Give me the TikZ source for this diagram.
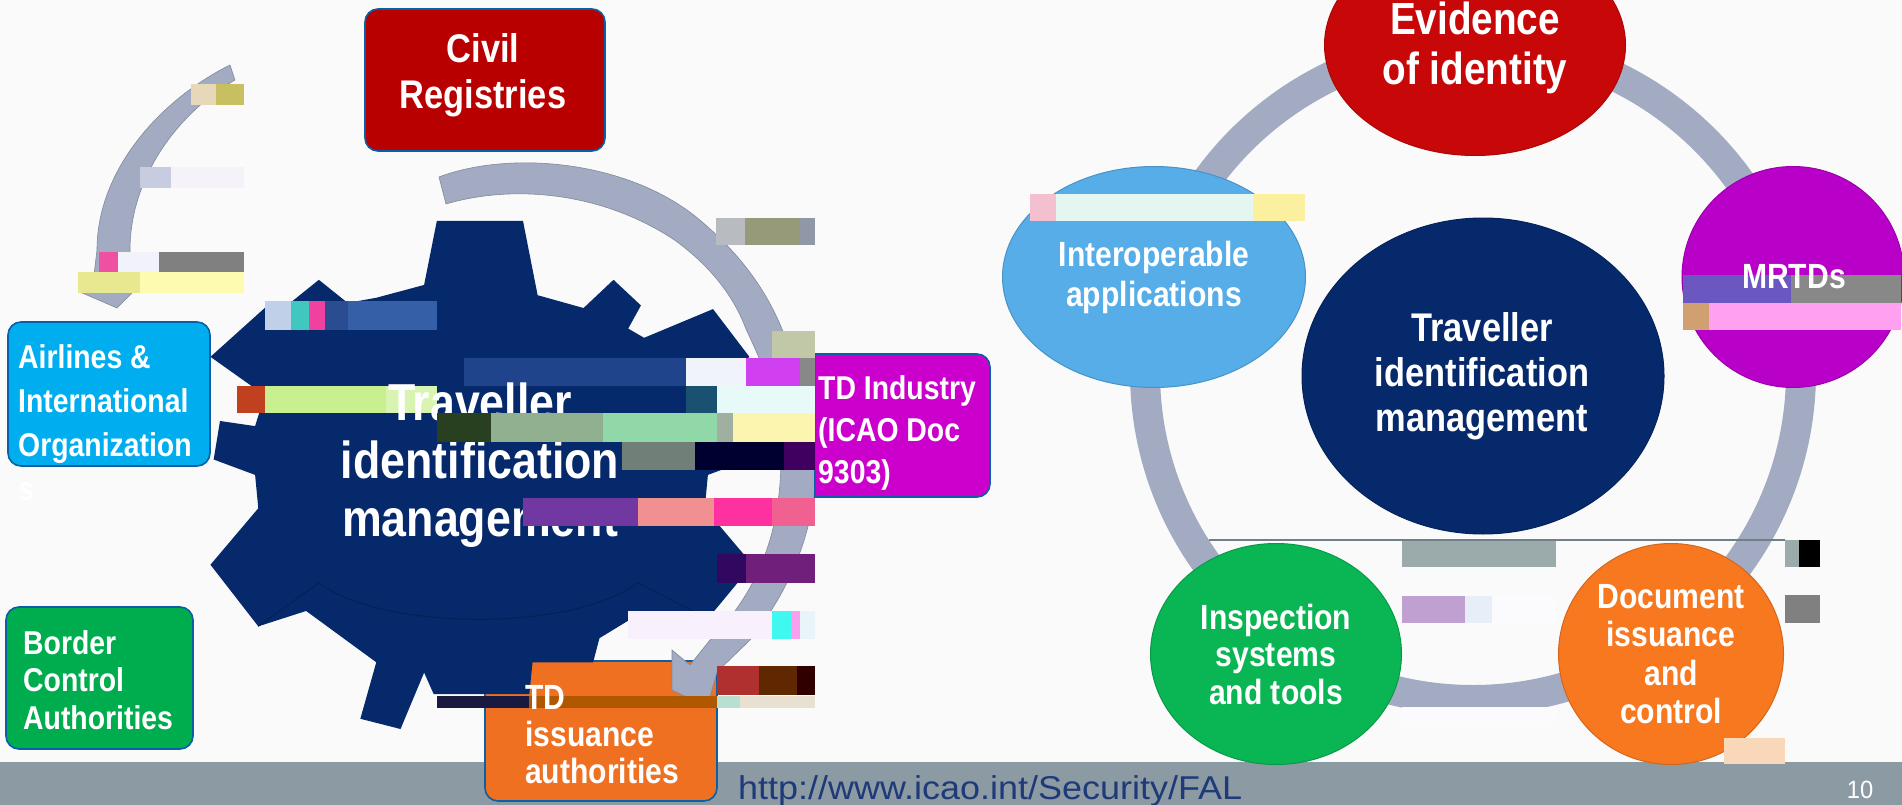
\documentclass[tikz,border=0pt]{standalone}
\usepackage{fontspec}
\usetikzlibrary{shapes.geometric}
\newfontfamily\bfont[FakeStretch=0.86]{Liberation Sans Bold}
\newfontfamily\urlfont[FakeStretch=1.09]{Liberation Sans}
\newfontfamily\numfont[FakeStretch=0.95]{Liberation Sans}
\definecolor{bgc}{HTML}{FAFAFA}
\definecolor{footc}{HTML}{8C9AA3}
\definecolor{navyc}{HTML}{05296B}
\definecolor{arcc}{HTML}{A3ABC3}
\definecolor{edgec}{HTML}{0B5FA5}
\definecolor{urlc}{HTML}{1F3A78}
\definecolor{civilc}{HTML}{B80000}
\definecolor{airc}{HTML}{00AEEF}
\definecolor{borderc}{HTML}{00AD4E}
\definecolor{tdc}{HTML}{CC00CC}
\definecolor{issuec}{HTML}{EE7020}
\definecolor{evidc}{HTML}{C80808}
\definecolor{interc}{HTML}{56ADE8}
\definecolor{mrtdc}{HTML}{B800C8}
\definecolor{inspc}{HTML}{0AB554}
\definecolor{docuc}{HTML}{F87820}
\newcommand{\gb}[5]{\definecolor{gbc}{HTML}{#5}\fill[gbc] (#1,#2) rectangle (#3,#4);}
\tikzset{
  lbl/.style 2 args={text=white,inner sep=0pt,font={\bfont\fontsize{#1}{#2}\selectfont}},
  roundbox/.style={draw=edgec,line width=1.6pt,rounded corners=13pt,fill=#1},
  disc/.style={ellipse,inner sep=0pt,align=center,text=white,fill=#1,draw=#1!85!black,line width=1pt},
  arcshape/.style={fill=arcc,draw=arcc!80!black,line width=0.6pt}
}
\begin{document}
\begin{tikzpicture}[x=1pt,y=-1pt]
\clip (0,0) rectangle (1902,805);
\fill[bgc] (0,0) rectangle (1902,805);
\fill[footc] (0,762) rectangle (1902,805);

% ---- left: boxes
\draw[roundbox=issuec] (485,661) rectangle (717,801);
\begin{scope}[x=0.63776pt,y=-0.51339pt]
\fill[navyc] (685,430) -- (820,430) -- (843,575) -- (915,600) -- (962,545) -- (1005,595) -- (985,640) -- (1010,658) -- (1118,602) -- (1175,695) -- (1110,770) -- (1120,830) -- (1180,820) -- (1175,895) -- (1110,925) -- (1105,990) -- (1180,1100) -- (1110,1205) -- (1010,1190) -- (940,1243) -- (930,1290) -- (835,1290) -- (830,1352) -- (680,1352) -- (665,1310) -- (628,1420) -- (565,1400) -- (590,1290) -- (480,1190) -- (405,1220) -- (330,1100) -- (405,990) -- (400,925) -- (335,895) -- (345,820) -- (400,830) -- (415,770) -- (330,695) -- (415,600) -- (455,590) -- (500,545) -- (545,590) -- (590,580) -- (665,555) -- cycle;
\draw[navyc!80!black,line width=1pt] (405,1220) -- (500,1135) .. controls (600,1230) and (900,1230) .. (1000,1135) -- (1110,1205);
\end{scope}
% ---- arcs
\path[arcshape] (230,65) -- (235,80) .. controls (175,115) and (130,180) .. (130,250) -- (132,293) -- (117,308) -- (80,292) -- (93,283) -- (97,250) .. controls (97,170) and (160,100) .. (230,65) -- cycle;
\path[arcshape] (439,177) -- (446,204) .. controls (510,185) and (600,190) .. (676,241) .. controls (715,270) and (735,300) .. (746,329) .. controls (770,380) and (785,420) .. (781,462) .. controls (780,530) and (760,590) .. (710,640) -- (690,665) -- (672,650) -- (672,690) -- (707,707) -- (717,672) -- (750,640) .. controls (790,590) and (816,530) .. (816,462) .. controls (816,410) and (805,370) .. (784,334) .. controls (765,285) and (735,250) .. (701,221) .. controls (630,160) and (510,150) .. (439,177) -- cycle;

\draw[roundbox=civilc] (365,9) rectangle (605,151);
\node[lbl={40}{46},align=center] (civil) at (483,75) {Civil\\Registries};
\draw[roundbox=airc] (8,322) rectangle (210,466);
\node[lbl={33}{44},anchor=west,align=left] (air) at (18,423) {Airlines \&\\International\\Organization\\s};
\draw[roundbox=borderc] (6,607) rectangle (193,749);
\node[lbl={33}{37.5},anchor=west,align=left] (border) at (23,680) {Border\\Control\\Authorities};
\fill[tdc,draw=edgec,line width=1.6pt] (815,354) -- (977,354) arc[start angle=90,end angle=0,radius=13pt] -- (990,484) arc[start angle=0,end angle=-90,radius=13pt] -- (815,497) -- cycle;
\node[lbl={33}{42},anchor=west,align=left] (tdind) at (818,433) {TD Industry\\(ICAO Doc\\9303)};
\node[text=urlc,inner sep=0pt,anchor=west,font={\urlfont\fontsize{33}{38}\selectfont}] (url) at (738,791) {http://www.icao.int/Security/FAL};
\node[text=white,inner sep=0pt,font={\numfont\fontsize{25}{28}\selectfont}] (page) at (1860,790) {10};

% ---- left glitch blocks, under the hub text
\begin{scope}[x=0.63776pt,y=-0.51339pt]
\gb{300}{163}{338}{205}{E6D8B8}\gb{338}{163}{383}{205}{C8C060}
\gb{268}{325}{383}{367}{F5F2FA}\gb{220}{325}{268}{367}{C8CCE0}
\gb{155}{490}{185}{530}{F050A0}\gb{185}{490}{250}{530}{F2F2FA}\gb{250}{490}{383}{530}{808080}
\gb{122}{530}{220}{571}{E8E890}\gb{220}{530}{383}{571}{FDFBB0}
\gb{1123}{425}{1168}{478}{B8BCC0}\gb{1168}{425}{1255}{478}{969A78}\gb{1255}{425}{1278}{478}{9098A8}
\gb{415}{587}{457}{642}{C0D0E8}\gb{457}{587}{485}{642}{40C8C0}\gb{485}{587}{510}{642}{F040A0}\gb{510}{587}{545}{642}{2A4C90}\gb{545}{587}{685}{642}{3560A8}
\gb{1210}{645}{1278}{698}{C0C8A8}
\gb{728}{698}{1075}{752}{20448C}\gb{1075}{698}{1170}{752}{F0F4FA}\gb{1170}{698}{1255}{752}{D040F0}\gb{1255}{698}{1278}{752}{888888}
\gb{372}{752}{415}{805}{C04020}\gb{415}{752}{605}{805}{C8F090}\gb{605}{752}{685}{805}{D8F4B0}
\gb{1075}{752}{1125}{805}{1A5070}\gb{1125}{752}{1278}{805}{E8FAF8}
\end{scope}
\node[lbl={52}{58},align=center] (hub) at (480,465) {Traveller\\identification\\management};
% ---- left glitch blocks, over the hub text
\begin{scope}[x=0.63776pt,y=-0.51339pt]
\gb{685}{805}{770}{860}{284020}\gb{770}{805}{945}{860}{90B090}\gb{945}{805}{1125}{860}{90D8A8}\gb{1125}{805}{1150}{860}{A0B0A0}\gb{1150}{805}{1278}{860}{FBF5B0}
\gb{975}{860}{1090}{915}{708078}\gb{1090}{860}{1230}{915}{000030}\gb{1230}{860}{1278}{915}{400060}
\gb{820}{970}{1000}{1025}{7038A0}\gb{1000}{970}{1120}{1025}{F09090}\gb{1120}{970}{1210}{1025}{FF30A0}\gb{1210}{970}{1278}{1025}{F06090}
\gb{1125}{1080}{1170}{1135}{300860}\gb{1170}{1080}{1278}{1135}{70207A}
\gb{985}{1190}{1210}{1245}{F8F0FC}\gb{1210}{1190}{1240}{1245}{40F8F0}\gb{1240}{1190}{1255}{1245}{F8A0F0}\gb{1255}{1190}{1278}{1245}{E8F4F8}
\gb{1125}{1298}{1190}{1353}{B03030}\gb{1190}{1298}{1250}{1353}{602800}\gb{1250}{1298}{1278}{1353}{300000}
\gb{685}{1355}{830}{1380}{1A1A40}\gb{830}{1355}{1125}{1380}{B05800}\gb{1125}{1355}{1160}{1380}{B8E0D0}\gb{1160}{1355}{1278}{1380}{E8E0D0}
\end{scope}
\node[lbl={35}{37},anchor=west,align=left] (tdiss) at (525,735) {TD\\issuance\\authorities};

% ---- right: ring and discs
\draw[arcc,line width=30pt] (1473,372) circle[radius=328pt];
\begin{scope}[shift={(980pt,0pt)},x=0.58801pt,y=-0.51339pt]
\gb{718}{1160}{980}{1215}{FBFBFD}\gb{718}{1378}{980}{1415}{FBFBFD}
\end{scope}
\node[disc=evidc,minimum width=301pt,minimum height=221pt] (evid) at (1475,45) {};
\node[lbl={45}{50},align=center] (evidt) at (1475,48) {Evidence\\of identity};
\node[disc=interc,minimum width=303pt,minimum height=221pt] (interop) at (1154,277) {};
\node[disc=mrtdc,minimum width=222pt,minimum height=221pt] (mrtd) at (1793,277) {};
\node[disc=navyc,minimum width=362pt,minimum height=316pt] (core) at (1483,376) {};
\node[lbl={40}{45},align=center] (coret) at (1482,376) {Traveller\\identification\\management};
\node[disc=inspc,minimum width=251pt,minimum height=221pt,font={\bfont\fontsize{35}{37.5}\selectfont}] (insp) at (1276,654) {Inspection\\systems\\and tools};
\node[disc=docuc,minimum width=225pt,minimum height=221pt,font={\bfont\fontsize{35}{38.5}\selectfont}] (docu) at (1671,654) {Document\\issuance\\and\\control};

% ---- right glitch blocks
\begin{scope}[shift={(980pt,0pt)},x=0.58801pt,y=-0.51339pt]
\gb{85}{377}{130}{431}{F4C0D0}\gb{130}{377}{465}{431}{E4F6F0}\gb{465}{377}{553}{431}{FBEFA0}
\gb{1195}{535}{1380}{590}{6A58C0}\gb{1380}{535}{1566}{590}{888888}
\gb{1195}{590}{1240}{642}{D0A070}\gb{1240}{590}{1566}{642}{FFA0F0}
\gb{390}{1050}{1369}{1054}{708088}
\gb{718}{1054}{980}{1104}{9BAAAA}
\gb{1369}{1052}{1392}{1104}{9BAAAA}\gb{1392}{1052}{1429}{1104}{000000}
\gb{1369}{1158}{1429}{1213}{808080}
\gb{718}{1160}{825}{1213}{C0A0D0}\gb{825}{1160}{870}{1213}{E8EEF8}
\gb{1265}{1438}{1369}{1488}{F8D8B8}
\end{scope}
\node[lbl={35}{40},align=center] (interopt) at (1154,277) {Interoperable\\applications};
\node[lbl={35}{37}] (mrtdt) at (1794,277) {MRTDs};
\end{tikzpicture}
\end{document}
